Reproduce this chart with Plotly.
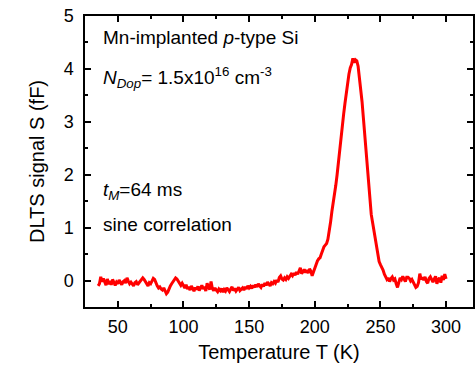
import numpy as np
import plotly.graph_objects as go

# Temperature grid (K), 1 K step from 35 to 300
temperature = list(range(35, 301))

# DLTS signal S (fF)
signal = [
    # 35..49
    -0.10, -0.06, 0.07, -0.02, 0.04, -0.04, -0.09, 0.03, -0.07, -0.01, -0.08, 0.02, -0.05, -0.09, -0.03,
    # 50..64
    -0.06, 0.01, -0.04, -0.08, -0.02, 0.00, -0.05, 0.05, -0.01, -0.06, -0.03, -0.07, -0.10, -0.04, -0.02,
    # 65..79
    -0.08, -0.05, -0.01, 0.03, 0.05, 0.02, -0.03, -0.08, -0.10, -0.04, -0.06, -0.01, 0.04, 0.02, -0.05,
    # 80..94
    -0.10, -0.14, -0.12, -0.16, -0.18, -0.14, -0.20, -0.25, -0.22, -0.15, -0.10, -0.06, -0.03, 0.02, 0.05,
    # 95..109
    0.03, -0.02, -0.06, -0.09, -0.05, -0.10, -0.14, -0.08, -0.16, -0.12, -0.18, -0.10, -0.15, -0.20, -0.13,
    # 110..124
    -0.17, -0.11, -0.19, -0.14, -0.09, -0.16, -0.12, -0.20, -0.05, -0.13, -0.17, -0.02, -0.15, -0.19, -0.14,
    # 125..139
    -0.18, -0.21, -0.16, -0.19, -0.15, -0.22, -0.17, -0.20, -0.14, -0.18, -0.21, -0.16, -0.12, -0.19, -0.15,
    # 140..154
    -0.20, -0.17, -0.13, -0.19, -0.16, -0.14, -0.18, -0.12, -0.16, -0.10, -0.14, -0.11, -0.15, -0.09, -0.13,
    # 155..169
    -0.08, -0.12, -0.06, -0.10, -0.13, -0.07, -0.11, -0.05, -0.09, -0.03, -0.07, -0.10, -0.04, -0.06, -0.02,
    # 170..184
    -0.05, 0.01, -0.03, 0.06, 0.09, 0.03, 0.01, 0.05, 0.02, 0.07, 0.04, 0.08, 0.12, 0.09, 0.14,
    # 185..199
    0.10, 0.16, 0.12, 0.18, 0.24, 0.13, 0.17, 0.21, 0.15, 0.20, 0.14, 0.22, 0.18, 0.09, 0.16,
    # 200..214
    0.24, 0.30, 0.37, 0.41, 0.43, 0.50, 0.58, 0.64, 0.67, 0.70, 0.78, 0.92, 1.10, 1.30, 1.45,
    # 215..229
    1.62, 1.80, 2.00, 2.25, 2.45, 2.70, 2.95, 3.15, 3.35, 3.55, 3.72, 3.90, 4.02, 4.08, 4.20,
    # 230..244
    4.12, 4.17, 4.15, 4.05, 3.85, 3.65, 3.38, 3.08, 2.78, 2.45, 2.10, 1.75, 1.48, 1.25, 1.10,
    # 245..255
    0.95, 0.80, 0.62, 0.45, 0.36, 0.30, 0.26, 0.20, 0.12, 0.06, 0.02,
    # 256..270
    0.05, -0.02, 0.04, 0.07, 0.01, 0.03, -0.06, -0.13, -0.04, 0.05, 0.02, 0.08, 0.03, -0.02, 0.06,
    # 271..285
    0.06, 0.04, -0.01, 0.02, -0.03, -0.08, -0.13, -0.11, -0.04, 0.13, 0.02, 0.06, 0.01, 0.07, -0.02,
    # 286..300
    -0.05, 0.04, 0.07, 0.02, -0.03, 0.03, 0.08, -0.06, 0.02, 0.05, -0.04, 0.09, 0.01, 0.12, 0.03,
]

x_tick_vals = [50, 100, 150, 200, 250, 300]
y_tick_vals = [0, 1, 2, 3, 4, 5]

annotation_texts = [
    "Mn-implanted <i>p</i>-type Si",
    "<i>N</i><sub><i>Dop</i></sub>= 1.5x10<sup>16</sup> cm<sup>-3</sup>",
    "<i>t</i><sub><i>M</i></sub>=64 ms",
    "sine correlation",
]
annotation_y = [0.925, 0.79, 0.40, 0.285]

FONT = "Arial, Liberation Sans, sans-serif"

fig = go.Figure()
fig.add_trace(go.Scatter(
    x=temperature, y=signal, mode="lines",
    line=dict(color="#ff0000", width=3),
    showlegend=False,
))

axis_common = dict(
    showline=True, linecolor="black", linewidth=1.5,
    ticks="inside", tickcolor="black", tickwidth=1.5, ticklen=6,
    showgrid=False, zeroline=False,
    tickfont=dict(family=FONT, size=18, color="black"),
)

fig.update_xaxes(
    range=[25, 320.5], tickvals=x_tick_vals, mirror="ticks",
    minor=dict(dtick=25, tick0=0, ticks="inside", ticklen=3, tickcolor="black", tickwidth=1.5),
    title=dict(text="Temperature T (K)", font=dict(family=FONT, size=20, color="black"), standoff=9),
    ticklabelstandoff=3,
    **axis_common,
)
fig.update_yaxes(
    range=[-0.5, 5], tickvals=y_tick_vals, mirror="ticks",
    minor=dict(dtick=0.5, tick0=0, ticks="inside", ticklen=3, tickcolor="black", tickwidth=1.5),
    title=dict(text="DLTS signal S (fF)", font=dict(family=FONT, size=20, color="black"), standoff=14),
    ticklabelstandoff=6,
    **axis_common,
)

for txt, yy in zip(annotation_texts, annotation_y):
    fig.add_annotation(
        x=0.04, y=yy, xref="paper", yref="paper",
        xanchor="left", yanchor="middle", showarrow=False,
        text=txt, font=dict(family=FONT, size=19, color="black"),
    )

fig.update_layout(
    width=475, height=367,
    margin=dict(l=85, r=0, t=16, b=60),
    paper_bgcolor="white", plot_bgcolor="white",
)

fig.write_html(
    "out.html",
    config={"displayModeBar": False},
    post_script="document.body.style.margin='0';document.body.style.overflow='hidden';",
)
